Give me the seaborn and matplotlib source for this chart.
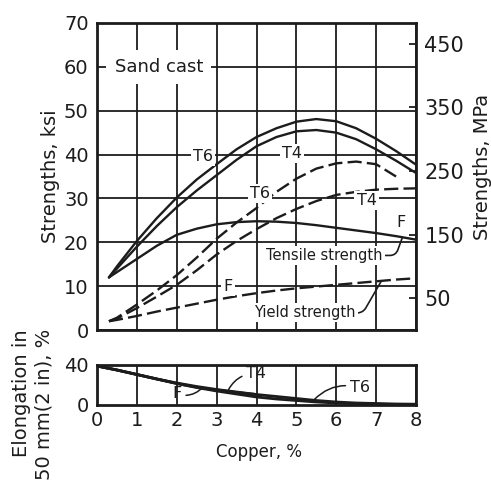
import matplotlib
matplotlib.use("Agg")
import matplotlib.pyplot as plt
import numpy as np
import pandas as pd
import seaborn as sns

# Copper content, %
copper = [0.3, 0.5, 1, 1.5, 2, 2.5, 3, 3.5, 4, 4.5, 5, 5.5, 6, 6.5, 7, 7.5, 8]

# Tensile strength, ksi
tensile_t6 = [12, 14.5, 20.3, 25.5, 30.2, 34.3, 37.8, 41.2, 44.0, 46.0, 47.5, 48.1, 47.6, 46.0, 43.6, 40.8, 37.7]
tensile_t4 = [12, 14.0, 19.0, 23.7, 28.0, 31.8, 35.3, 38.8, 41.9, 44.0, 45.3, 45.6, 45.0, 43.5, 41.2, 38.6, 35.8]
tensile_f = [12, 13.2, 16.2, 19.2, 21.7, 23.1, 24.1, 24.6, 24.8, 24.7, 24.4, 23.9, 23.3, 22.7, 22.1, 21.4, 20.6]

# Yield strength, ksi
copper_yield_t6 = copper[:-1]
yield_t6 = [2, 2.8, 5.8, 9.0, 12.5, 16.5, 20.8, 24.5, 27.8, 31.5, 34.5, 36.8, 38.0, 38.4, 37.8, 35.0]
yield_t4 = [2, 2.6, 5.0, 7.6, 10.3, 13.6, 17.2, 20.3, 23.0, 25.5, 27.6, 29.4, 30.8, 31.5, 32.0, 32.2, 32.3]
yield_f = [2, 2.3, 3.2, 4.2, 5.1, 6.0, 6.9, 7.7, 8.4, 9.0, 9.5, 9.9, 10.3, 10.7, 11.1, 11.5, 11.8]

# Elongation in 50 mm (2 in), %
copper_el = [0, 0.5, 1, 1.5, 2, 2.5, 3, 3.5, 4, 4.5, 5, 5.5, 6, 6.5, 7, 7.5, 8]
elong_t4 = [39, 35, 30.5, 26, 22, 18.5, 15.5, 13, 10.5, 8.5, 6.5, 4.5, 3, 2, 1.5, 1, 0.8]
elong_t6 = [39, 35, 30.5, 26, 21.5, 17.5, 14, 11, 8, 6, 4.5, 3, 2, 1.2, 0.8, 0.5, 0.4]
copper_el_f = [0, 0.5, 1, 1.5, 2, 2.5, 3, 3.5, 4]
elong_f = [39, 35, 30.5, 26, 21.5, 17.8, 15, 12.5, 10.5]

ksi_ticks = [0, 10, 20, 30, 40, 50, 60, 70]
mpa_ticks = [50, 150, 250, 350, 450]
copper_ticks = [0, 1, 2, 3, 4, 5, 6, 7, 8]
elong_ticks = [0, 40]

KSI_TO_MPA = 6.894757

sns.set_theme(style="white")
plt.rcParams["font.family"] = ["DejaVu Sans"]
ink = "#1c1c1c"
plt.rcParams.update({
    "text.color": ink, "axes.edgecolor": ink, "xtick.color": ink,
    "ytick.color": ink, "axes.labelcolor": ink,
})

W, H = 491, 483
fig = plt.figure(figsize=(W / 100, H / 100), dpi=100)
fig.patch.set_facecolor("white")

ax = fig.add_axes([97 / W, 1 - 330 / H, 319 / W, 307 / H])
axe = fig.add_axes([97 / W, 1 - 405 / H, 319 / W, 40 / H])

solid = dict(color=ink, linewidth=1.7, zorder=3)
dashed = dict(color=ink, linewidth=1.7, linestyle=(0, (6, 2.2)), zorder=3)

# strengths
sns.lineplot(x=copper, y=tensile_t6, ax=ax, **solid)
sns.lineplot(x=copper, y=tensile_t4, ax=ax, **solid)
sns.lineplot(x=copper, y=tensile_f, ax=ax, **solid)
sns.lineplot(x=copper_yield_t6, y=yield_t6, ax=ax, **dashed)
sns.lineplot(x=copper, y=yield_t4, ax=ax, **dashed)
sns.lineplot(x=copper, y=yield_f, ax=ax, **dashed)

ax.set_xlim(0, 8)
ax.set_ylim(0, 70)
ax.set_xticks(copper_ticks)
ax.set_xticklabels([])
ax.set_yticks(ksi_ticks)
ax.set_yticklabels([str(v) for v in ksi_ticks], fontsize=14)
ax.tick_params(axis="both", length=0, pad=6)
ax.grid(True, color=ink, linewidth=1.3, zorder=1)
ax.set_axisbelow(True)
for s in ax.spines.values():
    s.set_linewidth(2.0)
    s.set_color(ink)

sec = ax.secondary_yaxis("right", functions=(lambda v: v * KSI_TO_MPA, lambda v: v / KSI_TO_MPA))
sec.set_yticks(mpa_ticks)
sec.set_yticklabels([str(v) for v in mpa_ticks], fontsize=15)
sec.tick_params(direction="in", length=5, width=1.3, pad=6, colors=ink)
sec.spines["right"].set_visible(False)

box = dict(facecolor="white", edgecolor="none", pad=1.5)
ax.text(1.55, 60, "Sand cast", fontsize=13, ha="center", va="center", zorder=4,
        bbox=dict(facecolor="white", edgecolor="none", boxstyle="square,pad=0.45"))
ax.text(2.65, 39.6, "T6", fontsize=11.5, ha="center", va="center", zorder=4, bbox=box)
ax.text(4.88, 40.3, "T4", fontsize=11.5, ha="center", va="center", zorder=4, bbox=box)
ax.text(4.08, 31.2, "T6", fontsize=11.5, ha="center", va="center", zorder=4, bbox=box)
ax.text(6.76, 29.5, "T4", fontsize=11.5, ha="center", va="center", zorder=4, bbox=box)
ax.text(7.63, 24.6, "F", fontsize=11.5, ha="center", va="center", zorder=4)
ax.text(3.29, 10.0, "F", fontsize=11.5, ha="center", va="center", zorder=4, bbox=box)

ax.annotate("Tensile strength", xy=(7.65, 20.9), xytext=(5.7, 17.0), fontsize=10.5,
            ha="center", va="center", zorder=4, bbox=box,
            arrowprops=dict(arrowstyle="-", color=ink, lw=1.2,
                            shrinkA=0, shrinkB=0, connectionstyle="angle,angleA=0,angleB=70,rad=6"))
ax.annotate("Yield strength", xy=(7.12, 11.0), xytext=(5.22, 3.9), fontsize=10.5,
            ha="center", va="center", zorder=4, bbox=box,
            arrowprops=dict(arrowstyle="-", color=ink, lw=1.2,
                            shrinkA=0, shrinkB=0, connectionstyle="angle,angleA=0,angleB=60,rad=6"))

# elongation
eline = dict(color=ink, linewidth=2.0, zorder=3)
sns.lineplot(x=copper_el, y=elong_t4, ax=axe, **eline)
sns.lineplot(x=copper_el, y=elong_t6, ax=axe, **eline)
sns.lineplot(x=copper_el_f, y=elong_f, ax=axe, **eline)

axe.set_xlim(0, 8)
axe.set_ylim(0, 40)
axe.set_xticks(copper_ticks)
axe.set_xticklabels([str(v) for v in copper_ticks], fontsize=14)
axe.set_yticks(elong_ticks)
axe.set_yticklabels([str(v) for v in elong_ticks], fontsize=14)
axe.tick_params(axis="both", length=0, pad=4)
axe.tick_params(axis="y", pad=6)
axe.grid(True, axis="x", color=ink, linewidth=1.3, zorder=1)
axe.set_axisbelow(True)
for s in axe.spines.values():
    s.set_linewidth(2.0)
    s.set_color(ink)

lead = dict(arrowstyle="-", color=ink, lw=1.1, shrinkA=1, shrinkB=0,
            connectionstyle="arc3,rad=0.3")
axe.annotate("F", xy=(2.65, 17.5), xytext=(2.0, 11.0), fontsize=11.5,
             ha="center", va="center", arrowprops=lead)
axe.annotate("T4", xy=(3.3, 15.5), xytext=(4.0, 31.5), fontsize=11.5,
             ha="center", va="center", arrowprops=lead)
axe.annotate("T6", xy=(5.45, 5.5), xytext=(6.6, 17.0), fontsize=11.5,
             ha="center", va="center", arrowprops=lead)

fig.text(50 / W, 1 - 176 / H, "Strengths, ksi", rotation=90, fontsize=14,
         ha="center", va="center")
fig.text(482 / W, 1 - 167 / H, "Strengths, MPa", rotation=90, fontsize=14,
         ha="center", va="center")
fig.text(33 / W, 1 - 329 / H, "Elongation in\n50 mm(2 in), %", rotation=90,
         fontsize=14, ha="center", va="top", multialignment="right", linespacing=1.25)
fig.text(259 / W, 1 - 452 / H, "Copper, %", fontsize=12, ha="center", va="center")

fig.savefig("out.png", dpi=100, facecolor="white")
